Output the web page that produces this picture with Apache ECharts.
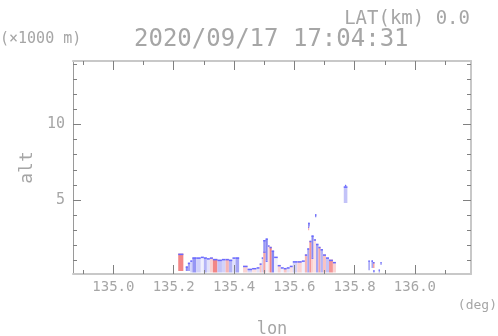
<!DOCTYPE html>
<html>
<head>
<meta charset="utf-8">
<script src="https://cdn.jsdelivr.net/npm/echarts@6/dist/echarts.min.js"></script>
<style>
  html, body { margin: 0; padding: 0; background: #fff; }
  #chart-container { width: 498px; height: 336px; }
</style>
</head>
<body>
<div id="chart-container"></div>
<script>
var dom = document.getElementById('chart-container');
var myChart = echarts.init(dom);

// 剖面数据: [lon0, lon1, alt下端(km), alt上端(km), 值(-1 红 ... 1 蓝)]
var westCells = [
  [135.215, 135.232, 0.30, 1.45, -0.8],
  [135.240, 135.247, 0.30, 0.60, 0.8],
  [135.247, 135.255, 0.30, 0.85, 0.6],
  [135.255, 135.262, 0.20, 1.00, 0.3],
  [135.262, 135.275, 0.20, 1.20, 0.7],
  [135.275, 135.290, 0.20, 1.20, 0.3],
  [135.290, 135.300, 0.20, 1.25, 0.1],
  [135.300, 135.310, 0.20, 1.20, 0.5],
  [135.310, 135.320, 0.20, 1.15, 0.2],
  [135.320, 135.330, 0.20, 1.20, -0.3],
  [135.330, 135.345, 0.20, 1.10, -0.8],
  [135.345, 135.360, 0.20, 1.05, 0.4],
  [135.360, 135.372, 0.20, 1.10, 0.3],
  [135.372, 135.383, 0.20, 1.10, -0.5],
  [135.383, 135.395, 0.20, 1.05, 0.5],
  [135.395, 135.405, 0.20, 1.20, 0.2],
  [135.405, 135.417, 0.20, 1.20, 0.6]
];

var peakWestCells = [
  [135.430, 135.445, 0.20, 0.65, -0.3],
  [135.445, 135.460, 0.20, 0.45, 0.3],
  [135.460, 135.475, 0.20, 0.50, -0.2],
  [135.475, 135.485, 0.20, 0.55, 0.2],
  [135.485, 135.492, 0.20, 0.80, -0.4],
  [135.492, 135.497, 0.20, 1.20, 0.3],
  [135.497, 135.505, 0.20, 1.60, -0.6],
  [135.497, 135.505, 1.60, 2.35, 0.7],
  [135.505, 135.512, 0.20, 1.00, 0.1],
  [135.505, 135.512, 1.00, 2.45, 0.8],
  [135.512, 135.518, 0.20, 2.00, -0.2],
  [135.518, 135.525, 0.20, 1.90, -0.8],
  [135.525, 135.533, 0.20, 1.65, 0.8],
  [135.533, 135.545, 0.20, 1.25, 0.1],
  [135.545, 135.555, 0.20, 0.70, -0.3],
  [135.555, 135.565, 0.20, 0.55, 0.1],
  [135.565, 135.575, 0.20, 0.50, -0.4],
  [135.575, 135.585, 0.20, 0.55, 0.2]
];

var peakEastCells = [
  [135.585, 135.595, 0.20, 0.65, -0.2],
  [135.595, 135.610, 0.20, 0.95, 0.3],
  [135.610, 135.625, 0.20, 0.95, -0.3],
  [135.625, 135.635, 0.20, 1.00, 0.1],
  [135.635, 135.643, 0.20, 1.40, -0.5],
  [135.643, 135.650, 0.20, 1.80, 0.6],
  [135.650, 135.657, 0.20, 2.30, -0.7],
  [135.657, 135.664, 0.20, 1.20, -0.3],
  [135.657, 135.664, 1.20, 2.65, 0.8],
  [135.664, 135.672, 0.20, 2.40, -0.2],
  [135.672, 135.680, 0.20, 2.10, 0.6],
  [135.680, 135.687, 0.20, 1.90, -0.6],
  [135.687, 135.695, 0.20, 1.75, 0.5],
  [135.695, 135.705, 0.20, 1.40, -0.4],
  [135.705, 135.715, 0.20, 1.20, 0.4],
  [135.715, 135.728, 0.20, 1.05, -0.7],
  [135.728, 135.738, 0.20, 0.90, -0.3]
];

var isolatedCells = [
  [135.646, 135.649, 3.00, 3.25, -0.6],
  [135.646, 135.651, 3.25, 3.50, 0.9],
  [135.669, 135.673, 3.85, 4.05, 0.9],
  [135.764, 135.776, 4.80, 5.90, 0.4],
  [135.768, 135.772, 5.90, 6.00, 0.9],
  [135.846, 135.850, 0.35, 1.00, 0.8],
  [135.856, 135.861, 0.50, 1.00, 0.6],
  [135.861, 135.866, 0.50, 0.90, -0.6],
  [135.862, 135.866, 0.20, 0.35, 0.8],
  [135.880, 135.883, 0.20, 0.40, 0.8],
  [135.886, 135.889, 0.70, 0.90, 0.8]
];

// 刻度
var lonLabelTicks = [135.0, 135.2, 135.4, 135.6, 135.8, 136.0];
var lonMinorTicks = [134.9, 135.1, 135.3, 135.5, 135.7, 135.9, 136.1];
var altLabelTicks = [5, 10];
var altMinorTicks = [1, 2, 3, 4, 6, 7, 8, 9, 11, 12, 13, 14];

var allCells = westCells.concat(peakWestCells, peakEastCells, isolatedCells);

var FONT = 'DejaVu Sans Mono';
var TEXT = '#a6a6a6';
var LON_MIN = 134.866, LON_MAX = 136.186;
var ALT_MIN = 0.1, ALT_MAX = 14.2;

function lonAxis(pos, ticks, len, showLabel, showLine) {
  return {
    type: 'value', position: pos, min: LON_MIN, max: LON_MAX, z: 5,
    splitLine: { show: false },
    axisLine: { show: showLine, onZero: false, lineStyle: { color: '#c8c8c8', width: 2 } },
    axisTick: { show: true, inside: true, length: len, customValues: ticks,
      lineStyle: { color: '#808080', width: 1 } },
    axisLabel: { show: showLabel, customValues: ticks, margin: 6,
      fontFamily: FONT, fontSize: 14, color: TEXT,
      formatter: function (v) { return v.toFixed(1); } }
  };
}

function altAxis(pos, ticks, len, showLabel, lineColor, lineWidth) {
  return {
    type: 'value', position: pos, min: ALT_MIN, max: ALT_MAX, z: 5,
    splitLine: { show: false },
    axisLine: { show: !!lineColor, onZero: false, lineStyle: { color: lineColor || '#ccc', width: lineWidth || 1 } },
    axisTick: { show: true, inside: true, length: len, customValues: ticks,
      lineStyle: { color: '#808080', width: 1 } },
    axisLabel: { show: showLabel, customValues: ticks, margin: 8,
      fontFamily: FONT, fontSize: 15, color: TEXT }
  };
}

var xAxes = [
  lonAxis('bottom', lonLabelTicks, 9, true, true),
  lonAxis('bottom', lonMinorTicks, 4, false, false),
  lonAxis('top', lonLabelTicks, 9, false, true),
  lonAxis('top', lonMinorTicks, 4, false, false)
];
xAxes[0].name = 'lon';
xAxes[0].nameLocation = 'middle';
xAxes[0].nameGap = 47;
xAxes[0].nameTextStyle = { fontFamily: FONT, fontSize: 17, color: TEXT };

var yAxes = [
  altAxis('left', altLabelTicks, 8, true, '#9a9a9a', 1),
  altAxis('left', altMinorTicks, 4, false, null),
  altAxis('right', altLabelTicks, 8, false, '#c8c8c8', 2),
  altAxis('right', altMinorTicks, 4, false, null)
];
yAxes[0].name = 'alt';
yAxes[0].nameLocation = 'middle';
yAxes[0].nameGap = 30;
yAxes[0].nameRotate = 90;
yAxes[0].nameTextStyle = { fontFamily: FONT, fontSize: 18, color: TEXT };

var option = {
  backgroundColor: '#ffffff',
  animation: false,
  grid: { left: 73, right: 27, top: 61, bottom: 62, containLabel: false, outerBoundsMode: 'none' },
  xAxis: xAxes,
  yAxis: yAxes,
  visualMap: {
    show: false,
    type: 'continuous',
    seriesIndex: 0,
    dimension: 4,
    min: -1,
    max: 1,
    inRange: { color: ['#f06868', '#f6b4b4', '#ffffff', '#b4b4f6', '#6a6af0'] }
  },
  graphic: [
    { type: 'text', right: 28, top: 10,
      style: { text: 'LAT(km) 0.0', fontFamily: FONT, fontSize: 19, fill: TEXT } },
    { type: 'text', left: 0, top: 32,
      style: { text: '(×1000 m)', fontFamily: FONT, fontSize: 15, fill: TEXT } },
    { type: 'text', left: 134, top: 28,
      style: { text: '2020/09/17 17:04:31', fontFamily: FONT, fontSize: 24, fill: TEXT } },
    { type: 'text', right: 1, top: 299,
      style: { text: '(deg)', fontFamily: FONT, fontSize: 13, fill: TEXT } }
  ],
  series: [
    {
      type: 'custom',
      xAxisIndex: 0,
      yAxisIndex: 0,
      z: 2,
      data: allCells,
      encode: { x: [0, 1], y: [2, 3] },
      renderItem: function (params, api) {
        var p0 = api.coord([api.value(0), api.value(2)]);
        var p1 = api.coord([api.value(1), api.value(3)]);
        var x = p0[0], w = Math.max(p1[0] - p0[0], 1);
        var yTop = p1[1], h = Math.max(p0[1] - p1[1], 1);
        return {
          type: 'group',
          children: [
            { type: 'rect', shape: { x: x, y: yTop, width: w, height: h },
              style: { fill: api.visual('color') } },
            { type: 'rect', shape: { x: x, y: yTop, width: w, height: 1.5 },
              style: { fill: '#6a6aff' } }
          ]
        };
      }
    }
  ]
};

myChart.setOption(option);
window.addEventListener('resize', myChart.resize);
</script>
</body>
</html>
